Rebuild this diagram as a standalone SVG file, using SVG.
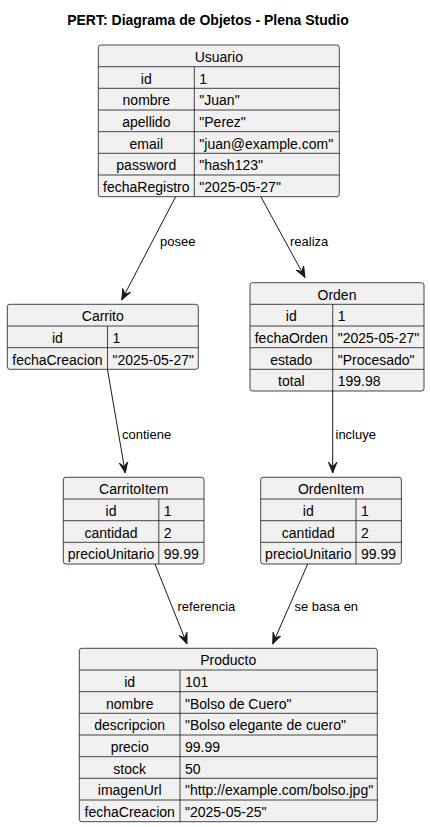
<svg xmlns="http://www.w3.org/2000/svg" width="430" height="827" viewBox="0 0 430 827">
<style>
.box{fill:#F1F1F1;stroke:#181818;stroke-width:0.8}
.sep{stroke:#181818;stroke-width:0.8}
.t{font-family:"Liberation Sans",Arial,sans-serif;font-size:14px;fill:#000}
.c{text-anchor:middle}
.title{font-family:"Liberation Sans",Arial,sans-serif;font-size:14px;font-weight:bold;fill:#000;text-anchor:middle}
.lbl{font-family:"Liberation Sans",Arial,sans-serif;font-size:13px;fill:#000}
.edge{stroke:#181818;stroke-width:1;fill:none}
</style>
<defs>
<marker id="ah" markerUnits="userSpaceOnUse" markerWidth="12" markerHeight="12" viewBox="-10 -5 11 10" refX="0" refY="0" orient="auto">
<path d="M0,0 L-10,-4 L-6,0 L-10,4 Z" fill="#181818" stroke="#181818" stroke-width="0.8"/>
</marker>
</defs>
<rect width="430" height="827" fill="#FFFFFF"/>
<text class="title" x="208" y="25">PERT: Diagrama de Objetos - Plena Studio</text>

<g id="connectors">
<line class="edge" x1="175.5" y1="197" x2="121.7" y2="300" marker-end="url(#ah)"/>
<text class="lbl" x="160" y="246">posee</text>
<line class="edge" x1="261" y1="197" x2="305" y2="277.5" marker-end="url(#ah)"/>
<text class="lbl" x="290" y="246">realiza</text>
<line class="edge" x1="107.5" y1="369.5" x2="125.3" y2="473" marker-end="url(#ah)"/>
<text class="lbl" x="122" y="439">contiene</text>
<line class="edge" x1="332.7" y1="391" x2="332.7" y2="473" marker-end="url(#ah)"/>
<text class="lbl" x="335.5" y="439">incluye</text>
<line class="edge" x1="155" y1="564" x2="187" y2="644" marker-end="url(#ah)"/>
<text class="lbl" x="177.5" y="611">referencia</text>
<line class="edge" x1="307.7" y1="564" x2="272.7" y2="644" marker-end="url(#ah)"/>
<text class="lbl" x="294.5" y="611">se basa en</text>
</g>

<g id="Usuario">
<rect class="box" x="98.3" y="45" width="241" height="151.7" rx="2.5"/>
<line class="sep" x1="98.3" y1="66.7" x2="339.3" y2="66.7"/>
<line class="sep" x1="98.3" y1="88.3" x2="339.3" y2="88.3"/>
<line class="sep" x1="98.3" y1="110" x2="339.3" y2="110"/>
<line class="sep" x1="98.3" y1="131.7" x2="339.3" y2="131.7"/>
<line class="sep" x1="98.3" y1="153.3" x2="339.3" y2="153.3"/>
<line class="sep" x1="98.3" y1="175" x2="339.3" y2="175"/>
<line class="sep" x1="194.3" y1="66.7" x2="194.3" y2="196.7"/>
<text class="t c" x="218.8" y="62">Usuario</text>
<text class="t c" x="146.3" y="83.7">id</text><text class="t" x="199.3" y="83.7">1</text>
<text class="t c" x="146.3" y="105.3">nombre</text><text class="t" x="199.3" y="105.3">"Juan"</text>
<text class="t c" x="146.3" y="127">apellido</text><text class="t" x="199.3" y="127">"Perez"</text>
<text class="t c" x="146.3" y="148.7">email</text><text class="t" x="199.3" y="148.7">"juan@example.com"</text>
<text class="t c" x="146.3" y="170.3">password</text><text class="t" x="199.3" y="170.3">"hash123"</text>
<text class="t c" x="146.3" y="192">fechaRegistro</text><text class="t" x="199.3" y="192">"2025-05-27"</text>
</g>

<g id="Carrito">
<rect class="box" x="7.3" y="304.3" width="191" height="65" rx="2.5"/>
<line class="sep" x1="7.3" y1="326" x2="198.3" y2="326"/>
<line class="sep" x1="7.3" y1="347.7" x2="198.3" y2="347.7"/>
<line class="sep" x1="107.5" y1="326" x2="107.5" y2="369.3"/>
<text class="t c" x="102.8" y="321.3">Carrito</text>
<text class="t c" x="57.4" y="343">id</text><text class="t" x="112.5" y="343">1</text>
<text class="t c" x="57.4" y="364.7">fechaCreacion</text><text class="t" x="112.5" y="364.7">"2025-05-27"</text>
</g>

<g id="Orden">
<rect class="box" x="250" y="282.7" width="174" height="108.3" rx="2.5"/>
<line class="sep" x1="250" y1="304.3" x2="424" y2="304.3"/>
<line class="sep" x1="250" y1="326" x2="424" y2="326"/>
<line class="sep" x1="250" y1="347.7" x2="424" y2="347.7"/>
<line class="sep" x1="250" y1="369.3" x2="424" y2="369.3"/>
<line class="sep" x1="332.7" y1="304.3" x2="332.7" y2="391"/>
<text class="t c" x="337" y="299.7">Orden</text>
<text class="t c" x="291.3" y="321.3">id</text><text class="t" x="337.7" y="321.3">1</text>
<text class="t c" x="291.3" y="343">fechaOrden</text><text class="t" x="337.7" y="343">"2025-05-27"</text>
<text class="t c" x="291.3" y="364.7">estado</text><text class="t" x="337.7" y="364.7">"Procesado"</text>
<text class="t c" x="291.3" y="386.3">total</text><text class="t" x="337.7" y="386.3">199.98</text>
</g>

<g id="CarritoItem">
<rect class="box" x="63.3" y="477.3" width="140.7" height="86.7" rx="2.5"/>
<line class="sep" x1="63.3" y1="499" x2="204" y2="499"/>
<line class="sep" x1="63.3" y1="520.7" x2="204" y2="520.7"/>
<line class="sep" x1="63.3" y1="542.3" x2="204" y2="542.3"/>
<line class="sep" x1="158.8" y1="499" x2="158.8" y2="564"/>
<text class="t c" x="133.7" y="494.3">CarritoItem</text>
<text class="t c" x="111" y="516">id</text><text class="t" x="163.8" y="516">1</text>
<text class="t c" x="111" y="537.7">cantidad</text><text class="t" x="163.8" y="537.7">2</text>
<text class="t c" x="111" y="559.3">precioUnitario</text><text class="t" x="163.8" y="559.3">99.99</text>
</g>

<g id="OrdenItem">
<rect class="box" x="260.7" y="477.3" width="140.7" height="86.7" rx="2.5"/>
<line class="sep" x1="260.7" y1="499" x2="401.4" y2="499"/>
<line class="sep" x1="260.7" y1="520.7" x2="401.4" y2="520.7"/>
<line class="sep" x1="260.7" y1="542.3" x2="401.4" y2="542.3"/>
<line class="sep" x1="356" y1="499" x2="356" y2="564"/>
<text class="t c" x="331" y="494.3">OrdenItem</text>
<text class="t c" x="308.3" y="516">id</text><text class="t" x="361" y="516">1</text>
<text class="t c" x="308.3" y="537.7">cantidad</text><text class="t" x="361" y="537.7">2</text>
<text class="t c" x="308.3" y="559.3">precioUnitario</text><text class="t" x="361" y="559.3">99.99</text>
</g>

<g id="Producto">
<rect class="box" x="79.3" y="648.3" width="298" height="173.4" rx="2.5"/>
<line class="sep" x1="79.3" y1="670" x2="377.3" y2="670"/>
<line class="sep" x1="79.3" y1="691.7" x2="377.3" y2="691.7"/>
<line class="sep" x1="79.3" y1="713.3" x2="377.3" y2="713.3"/>
<line class="sep" x1="79.3" y1="735" x2="377.3" y2="735"/>
<line class="sep" x1="79.3" y1="756.7" x2="377.3" y2="756.7"/>
<line class="sep" x1="79.3" y1="778.3" x2="377.3" y2="778.3"/>
<line class="sep" x1="79.3" y1="800" x2="377.3" y2="800"/>
<line class="sep" x1="180" y1="670" x2="180" y2="821.7"/>
<text class="t c" x="228.3" y="665.3">Producto</text>
<text class="t c" x="129.7" y="687">id</text><text class="t" x="185" y="687">101</text>
<text class="t c" x="129.7" y="708.7">nombre</text><text class="t" x="185" y="708.7">"Bolso de Cuero"</text>
<text class="t c" x="129.7" y="730.3">descripcion</text><text class="t" x="185" y="730.3">"Bolso elegante de cuero"</text>
<text class="t c" x="129.7" y="752">precio</text><text class="t" x="185" y="752">99.99</text>
<text class="t c" x="129.7" y="773.7">stock</text><text class="t" x="185" y="773.7">50</text>
<text class="t c" x="129.7" y="795.3">imagenUrl</text><text class="t" x="185" y="795.3">"http://example.com/bolso.jpg"</text>
<text class="t c" x="129.7" y="817">fechaCreacion</text><text class="t" x="185" y="817">"2025-05-25"</text>
</g>
</svg>
